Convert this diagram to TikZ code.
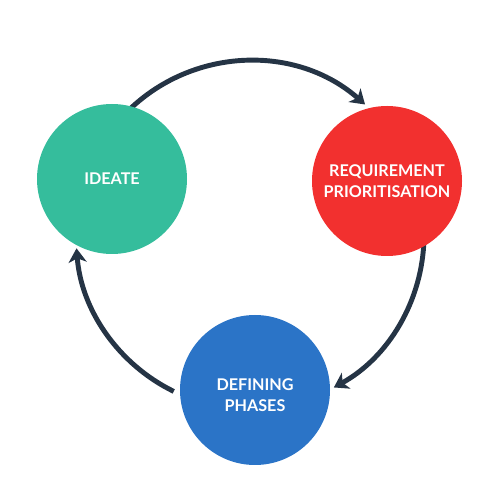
\documentclass[tikz,border=0pt]{standalone}
\usepackage{fontspec}
\setmainfont{Lato}
\usetikzlibrary{arrows.meta}
\definecolor{cgreen}{HTML}{35BD9C}
\definecolor{cred}{HTML}{F2302F}
\definecolor{cblue}{HTML}{2B74C7}
\definecolor{cnavy}{HTML}{253445}
\begin{document}
\begin{tikzpicture}[x=0.02cm,y=0.02cm,
  stage/.style={circle,minimum size=150*0.02cm,inner sep=0pt,text=white,
    font=\fontsize{9.2}{11.6}\selectfont\bfseries,align=center},
  cycle/.style={draw=cnavy,line width=2.8pt,-{Stealth[length=0.28cm,width=0.36cm,inset=0.08cm]}}]
\useasboundingbox (0,0) rectangle (500,500);
\coordinate (c) at (250,265);
\draw[cycle] (c) ++(135:174) arc[start angle=135,end angle=48.6,radius=174];
\draw[cycle] (c) ++(-1:174) arc[start angle=-1,end angle=-61.2,radius=174];
\draw[cycle] (c) ++(-116:174) arc[start angle=-116,end angle=-175.6,radius=174];
\node[stage,fill=cgreen] (ideate) at (112,321) {IDEATE};
\node[stage,fill=cred] (req) at (387,319) {REQUIREMENT\\PRIORITISATION};
\node[stage,fill=cblue] (def) at (255,110) {};
\node[text=white,font=\fontsize{9.2}{11.6}\selectfont\bfseries,align=center] (deftext) at (255,105) {DEFINING\\PHASES};
\end{tikzpicture}
\end{document}
